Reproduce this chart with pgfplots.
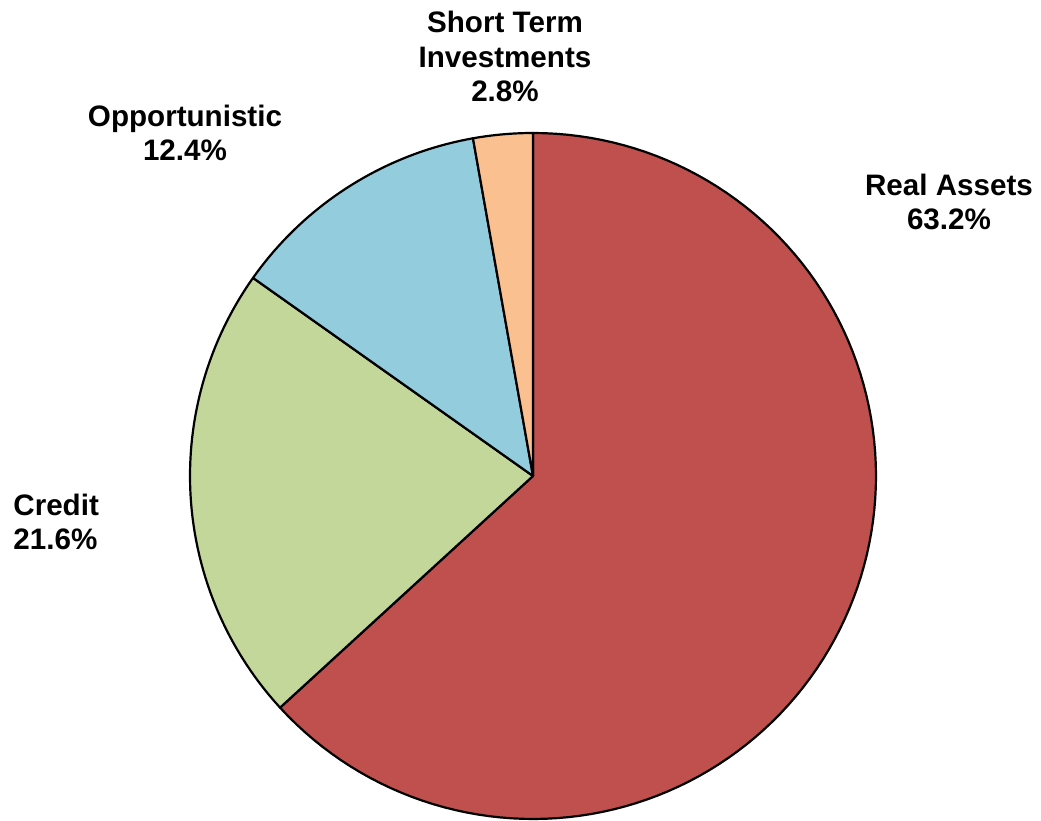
\documentclass[border=0pt]{standalone}
\usepackage{pgfplots}
\pgfplotsset{compat=1.18}
\usepackage{fontspec}
\setmainfont{Liberation Sans}
\definecolor{cRed}{HTML}{C0504D}
\definecolor{cGreen}{HTML}{C4D79B}
\definecolor{cBlue}{HTML}{93CDDD}
\definecolor{cOrange}{HTML}{FAC090}
\tikzset{lbl/.style={font=\fontsize{14.8}{17.5}\selectfont\bfseries, inner sep=0pt}}
\begin{document}
\begin{tikzpicture}
\begin{axis}[
  width=520.5pt, height=410pt, scale only axis,
  xmin=0, xmax=1041, ymin=0, ymax=820,
  hide axis, clip=false,
]
% Real Assets 63.2%
\addplot[fill=cRed, draw=black, line width=1.1pt, line join=round, domain=-137.52:90, samples=120, variable=\t]
  ({533+343*cos(t)},{344+343*sin(t)}) -- (axis cs:533,344) -- cycle;
% Credit 21.6%
\addplot[fill=cGreen, draw=black, line width=1.1pt, line join=round, domain=144.72:222.48, samples=60, variable=\t]
  ({533+343*cos(t)},{344+343*sin(t)}) -- (axis cs:533,344) -- cycle;
% Opportunistic 12.4%
\addplot[fill=cBlue, draw=black, line width=1.1pt, line join=round, domain=100.08:144.72, samples=40, variable=\t]
  ({533+343*cos(t)},{344+343*sin(t)}) -- (axis cs:533,344) -- cycle;
% Short Term Investments 2.8%
\addplot[fill=cOrange, draw=black, line width=1.1pt, line join=round, domain=90:100.08, samples=12, variable=\t]
  ({533+343*cos(t)},{344+343*sin(t)}) -- (axis cs:533,344) -- cycle;
% labels
\node[lbl, anchor=base] at (axis cs:505,787) {Short Term};
\node[lbl, anchor=base] at (axis cs:505,752) {Investments};
\node[lbl, anchor=base] at (axis cs:505,718) {2.8\%};
\node[lbl, anchor=base] at (axis cs:185,693) {Opportunistic};
\node[lbl, anchor=base] at (axis cs:185,659) {12.4\%};
\node[lbl, anchor=base] at (axis cs:949,624) {Real Assets};
\node[lbl, anchor=base] at (axis cs:949,590) {63.2\%};
\node[lbl, anchor=base west] at (axis cs:13,304) {Credit};
\node[lbl, anchor=base west] at (axis cs:13,270) {21.6\%};
\path (axis cs:0,0) rectangle (axis cs:1041,820);
\end{axis}
\end{tikzpicture}
\end{document}
